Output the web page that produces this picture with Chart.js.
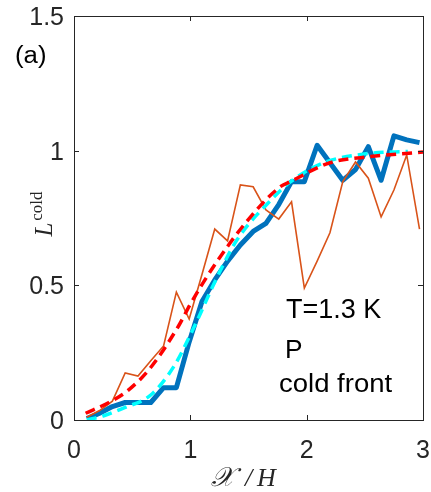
<!DOCTYPE html>
<html>
<head>
<meta charset="utf-8">
<script src="https://cdn.jsdelivr.net/npm/chart.js@4"></script>
<style>
  html, body { margin: 0; padding: 0; background: #fff; }
  #coldChart { display: block; }
</style>
</head>
<body>
<canvas id="coldChart" width="431" height="492"></canvas>
<script>
// sampled front positions (x / H)
const xGrid = [0.11, 0.22, 0.33, 0.44, 0.55, 0.66, 0.77, 0.88, 0.99, 1.10, 1.21, 1.32, 1.43, 1.54,
               1.65, 1.76, 1.87, 1.98, 2.09, 2.20, 2.31, 2.42, 2.53, 2.64, 2.75, 2.86, 2.97];
// averaged profile (thick blue)
const blueVals = [0.005, 0.025, 0.05, 0.065, 0.065, 0.065, 0.12, 0.12, 0.29, 0.44, 0.52, 0.59, 0.65, 0.70,
                  0.73, 0.80, 0.885, 0.885, 1.02, 0.955, 0.89, 0.93, 1.015, 0.89, 1.055, 1.04, 1.03];
// single realisation (thin orange)
const orangeVals = [0.01, 0.035, 0.07, 0.175, 0.163, 0.22, 0.275, 0.475, 0.375, 0.54, 0.709, 0.665, 0.873, 0.866,
                    0.78, 0.746, 0.81, 0.49, 0.59, 0.695, 0.884, 0.958, 0.898, 0.754, 0.854, 0.984, 0.709];
// fitted curves (dashed)
const redX = [0.10, 0.30, 0.45, 0.65, 0.90, 1.00, 1.20, 1.50, 1.77, 1.86, 2.20, 2.55, 3.00];
const redY = [0.025, 0.065, 0.105, 0.19, 0.35, 0.43, 0.57, 0.745, 0.865, 0.885, 0.955, 0.978, 0.995];
const cyanX = [0.11, 0.25, 0.43, 0.66, 0.86, 1.02, 1.23, 1.40, 1.71, 1.86, 2.14, 2.54, 2.87];
const cyanY = [0.0, 0.015, 0.045, 0.093, 0.20, 0.334, 0.53, 0.668, 0.824, 0.884, 0.954, 0.99, 0.997];

const xTicks = [0, 1, 2, 3];
const yTicks = [0, 0.5, 1, 1.5];
const yTickLabels = ['0', '0.5', '1', '1.5'];
const notes = ['T=1.3 K', 'P', 'cold front'];

const pts = (xs, ys) => xs.map((x, i) => ({ x: x, y: ys[i] }));

const axisColor = '#262626';
const sans = '"Liberation Sans", Arial, sans-serif';

// box, inward ticks and all text, MATLAB style
const frame = {
    id: 'frame',
    afterDraw(chart) {
        const ctx = chart.ctx;
        const a = chart.chartArea;
        const sx = chart.scales.x, sy = chart.scales.y;
        ctx.save();
        ctx.strokeStyle = axisColor;
        ctx.lineWidth = 1;
        ctx.strokeRect(Math.round(a.left) + 0.5, Math.round(a.top) + 0.5,
                       Math.round(a.right - a.left), Math.round(a.bottom - a.top));
        const tl = 5;
        ctx.beginPath();
        xTicks.forEach(v => {
            const px = Math.round(sx.getPixelForValue(v)) + 0.5;
            ctx.moveTo(px, a.bottom); ctx.lineTo(px, a.bottom - tl);
            ctx.moveTo(px, a.top); ctx.lineTo(px, a.top + tl);
        });
        yTicks.forEach(v => {
            const py = Math.round(sy.getPixelForValue(v)) + 0.5;
            ctx.moveTo(a.left, py); ctx.lineTo(a.left + tl, py);
            ctx.moveTo(a.right, py); ctx.lineTo(a.right - tl, py);
        });
        ctx.stroke();

        ctx.fillStyle = axisColor;
        ctx.font = '25px ' + sans;
        ctx.textBaseline = 'middle';
        ctx.textAlign = 'center';
        xTicks.forEach(v => ctx.fillText(String(v), sx.getPixelForValue(v), a.bottom + 31));
        ctx.textAlign = 'right';
        yTicks.forEach((v, i) => ctx.fillText(yTickLabels[i], a.left - 10, sy.getPixelForValue(v) + 2));

        // horizontally stretched text
        const text = (s, x, y, size, k) => {
            ctx.save();
            ctx.translate(x, y);
            ctx.scale(k, 1);
            ctx.font = size + 'px ' + sans;
            ctx.textAlign = 'left';
            ctx.textBaseline = 'alphabetic';
            ctx.fillText(s, 0, 0);
            ctx.restore();
        };
        ctx.fillStyle = '#000';
        text('(a)', 15, 63, 23, 1.12);
        text(notes[0], 286, 318, 27, 1.0);
        text(notes[1], 285, 358, 25, 1.05);
        text(notes[2], 279, 392, 25, 1.1);

        // x title: script X / H
        ctx.fillStyle = axisColor;
        ctx.textBaseline = 'alphabetic';
        ctx.textAlign = 'left';
        ctx.font = 'italic 27px "DejaVu Serif", "Liberation Serif", serif';
        ctx.fillText('\u{1D4B3}', 211, 486);
        ctx.font = 'italic 26px "Liberation Serif", serif';
        ctx.fillText('/', 245, 486);
        ctx.fillText('H', 257, 486);

        // y title L^cold, rotated
        ctx.save();
        ctx.translate(52, 214);
        ctx.rotate(-Math.PI / 2);
        ctx.font = 'italic 25px "Liberation Serif", serif';
        const wL = ctx.measureText('L').width;
        ctx.font = '17px "Liberation Serif", serif';
        const wC = ctx.measureText('cold').width;
        const x0 = -(wL + 2 + wC) / 2;
        ctx.textAlign = 'left';
        ctx.font = 'italic 25px "Liberation Serif", serif';
        ctx.fillText('L', x0, 0);
        ctx.font = '17px "Liberation Serif", serif';
        ctx.fillText('cold', x0 + wL + 2, -10);
        ctx.restore();

        ctx.restore();
    }
};

const ctx = document.getElementById('coldChart').getContext('2d');
const coldChart = new Chart(ctx, {
    type: 'line',
    data: {
        datasets: [
            {
                data: pts(redX, redY),
                borderColor: '#ff0000',
                borderWidth: 3.5,
                borderDash: [10, 6],
                cubicInterpolationMode: 'monotone',
                pointRadius: 0,
                order: 0
            },
            {
                data: pts(cyanX, cyanY),
                borderColor: '#00ffff',
                borderWidth: 3.5,
                borderDash: [10, 6],
                cubicInterpolationMode: 'monotone',
                pointRadius: 0,
                order: 1
            },
            {
                data: pts(xGrid, orangeVals),
                borderColor: '#d95319',
                borderWidth: 1.6,
                pointRadius: 0,
                tension: 0,
                order: 2
            },
            {
                data: pts(xGrid, blueVals),
                borderColor: '#0072bd',
                borderWidth: 5,
                borderJoinStyle: 'round',
                pointRadius: 0,
                tension: 0,
                order: 3
            }
        ]
    },
    options: {
        responsive: false,
        animation: false,
        layout: { padding: { left: 74, top: 16, right: 8, bottom: 72 } },
        plugins: {
            legend: { display: false },
            tooltip: { enabled: false }
        },
        scales: {
            x: {
                type: 'linear',
                min: 0,
                max: 3,
                ticks: { display: false },
                grid: { display: false, drawTicks: false },
                border: { display: false }
            },
            y: {
                min: 0,
                max: 1.5,
                ticks: { display: false },
                grid: { display: false, drawTicks: false },
                border: { display: false }
            }
        }
    },
    plugins: [frame]
});
</script>
</body>
</html>
